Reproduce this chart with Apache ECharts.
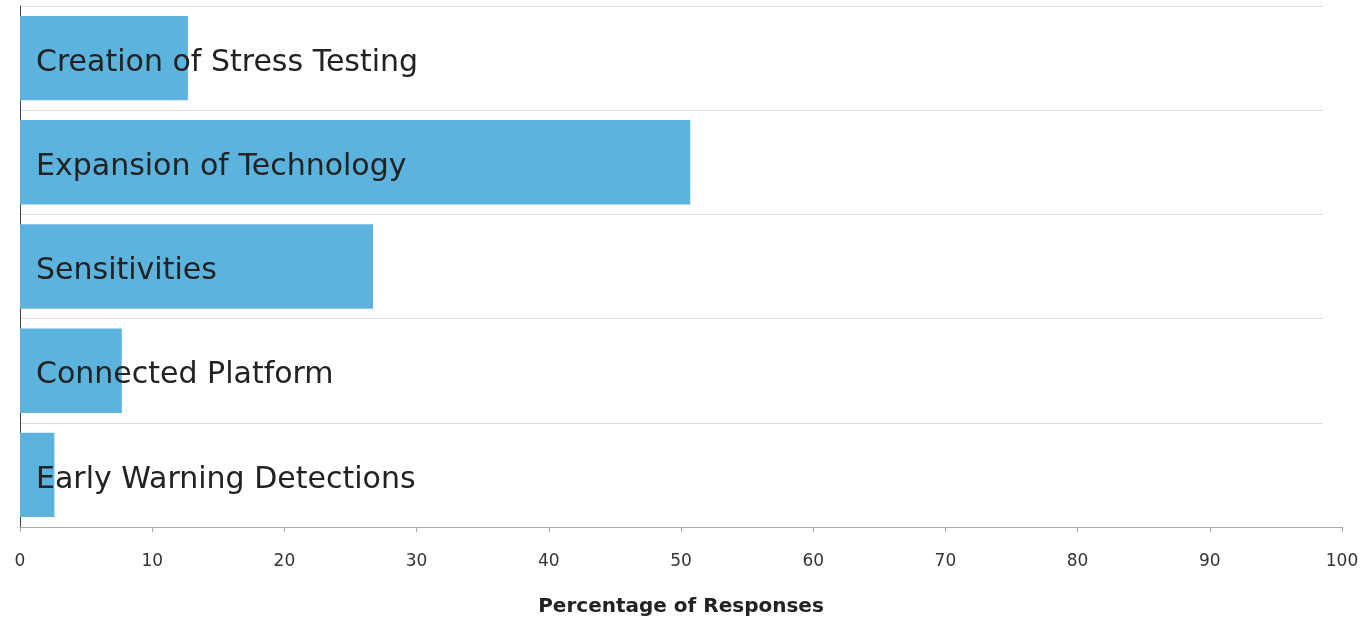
<!DOCTYPE html>
<html>
<head>
<meta charset="utf-8">
<script src="https://cdn.jsdelivr.net/npm/echarts@6/dist/echarts.min.js"></script>
<style>
html,body{margin:0;padding:0;background:#fff;}
#chart{width:1367px;height:620px;}
</style>
</head>
<body>
<div id="chart"></div>
<script>
const categories = ["Creation of Stress Testing", "Expansion of Technology", "Sensitivities", "Connected Platform", "Early Warning Detections"];
const values = [12.7, 50.7, 26.7, 7.7, 2.6];
const xTicks = [0, 10, 20, 30, 40, 50, 60, 70, 80, 90, 100];
const axisTitle = "Percentage of Responses";

const FONT = "'DejaVu Sans', sans-serif";
const chart = echarts.init(document.getElementById('chart'));
chart.setOption({
  animation: false,
  grid: [
    {left: 20, right: 25, top: 6, bottom: 93, outerBoundsMode: 'none', containLabel: false},
    {left: 20, right: 44, top: 6, bottom: 93, outerBoundsMode: 'none', containLabel: false}
  ],
  xAxis: [
    {
      gridIndex: 0, type: 'value', min: xTicks[0], max: xTicks[xTicks.length-1], interval: 10,
      name: axisTitle, nameLocation: 'middle', nameGap: 70,
      nameTextStyle: {fontFamily: FONT, fontWeight: 'bold', fontSize: 20, color: '#222'},
      axisLine: {show: true, lineStyle: {color: '#aaa', width: 1}},
      axisTick: {show: true, length: 5, lineStyle: {color: '#aaa'}},
      axisLabel: {margin: 26, fontFamily: FONT, fontSize: 17, color: '#333'},
      splitLine: {show: false}
    },
    {
      gridIndex: 1, type: 'value', min: 0, max: 100, show: false
    }
  ],
  yAxis: [
    {
      gridIndex: 0, type: 'category', inverse: true, data: categories,
      axisLine: {show: true, lineStyle: {color: '#444', width: 1}},
      axisTick: {show: false}, axisLabel: {show: false}, splitLine: {show: false}
    },
    {
      gridIndex: 1, type: 'category', inverse: true, data: categories,
      axisLine: {show: false}, axisTick: {show: false}, axisLabel: {show: false},
      splitLine: {show: true, lineStyle: {color: '#ddd', width: 1}}
    }
  ],
  series: [
    {
      type: 'bar', xAxisIndex: 0, yAxisIndex: 0, data: values,
      barCategoryGap: '19%',
      itemStyle: {color: '#5bb3de'},
      label: {
        show: true, position: 'insideLeft', distance: 16,
        formatter: p => p.name,
        fontFamily: FONT, fontSize: 30, color: '#222', offset: [0, 5]
      },
      z: 3
    }
  ]
});
</script>
</body>
</html>
